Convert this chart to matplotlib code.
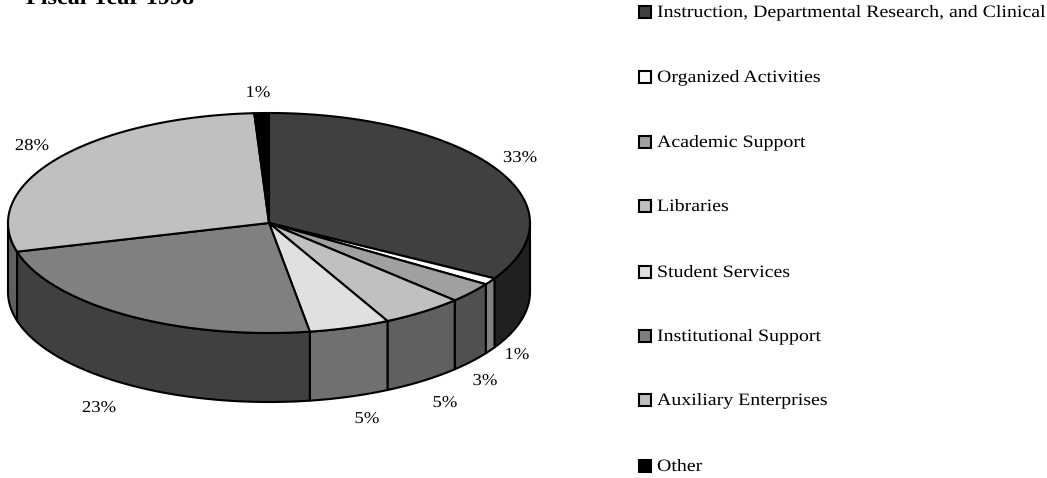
import numpy as np
import matplotlib
matplotlib.use('Agg')
import matplotlib.pyplot as plt
from matplotlib.patches import Polygon, Rectangle
from matplotlib.patheffects import AbstractPathEffect
from matplotlib.transforms import Affine2D

plt.rcParams['font.family'] = ['Liberation Serif', 'DejaVu Serif']

categories = ['Instruction, Departmental Research, and Clinical', 'Organized Activities',
              'Academic Support', 'Libraries', 'Student Services',
              'Institutional Support', 'Auxiliary Enterprises', 'Other']
values = [33.4, 1.0, 3.0, 5.1, 5.0, 23.3, 28.3, 0.9]
pct_labels = ['33%', '1%', '3%', '5%', '5%', '23%', '28%', '1%']
top_colors = ['#404040', '#ffffff', '#a0a0a0', '#c0c0c0', '#e0e0e0', '#808080', '#c0c0c0', '#000000']
side_colors = ['#202020', '#808080', '#505050', '#606060', '#707070', '#404040', '#606060', '#000000']

# pixel layout of the picture
cx, cy, rx, ry, depth = 269, 223, 261, 110, 69
label_pos = [(520, 158), (517, 355), (485, 381), (445, 403), (367, 419), (99, 408), (32, 146), (258, 93)]
legend_y = [12, 77, 142, 206, 272, 336, 400, 466]
lw = 1.5


class StretchX(AbstractPathEffect):
    # the original text is set wide, matplotlib has no tracking
    def __init__(self, x0, sx):
        super().__init__()
        self.tr = Affine2D().translate(-x0, 0).scale(sx, 1).translate(x0, 0)

    def draw_path(self, renderer, gc, tpath, affine, rgbFace=None):
        renderer.draw_path(gc, tpath, affine + self.tr, rgbFace)


def arc(t0, t1, dy=0):
    # clockwise from 12 o'clock, degrees
    t = np.radians(np.linspace(t0, t1, max(int(abs(t1 - t0)) * 2, 2)))
    return np.column_stack([cx + rx * np.sin(t), cy - ry * np.cos(t) + dy])


fig = plt.figure(figsize=(10.47, 4.78), dpi=100)
ax = fig.add_axes([0, 0, 1, 1])
ax.set_xlim(0, 1047)
ax.set_ylim(478, 0)
ax.axis('off')

edges = np.concatenate([[0], np.cumsum(values)]) * 360 / sum(values)

## side faces, only the front half of the rim shows
for i in range(len(values)):
    t0, t1 = max(edges[i], 90), min(edges[i + 1], 270)
    if t1 <= t0:
        continue
    pts = np.vstack([arc(t0, t1), arc(t1, t0, depth)])
    ax.add_patch(Polygon(pts, closed=True, facecolor=side_colors[i], edgecolor='k',
                         linewidth=lw, joinstyle='round'))

## top face
for i in range(len(values)):
    pts = np.vstack([[cx, cy], arc(edges[i], edges[i + 1])])
    ax.add_patch(Polygon(pts, closed=True, facecolor=top_colors[i], edgecolor='k',
                         linewidth=lw, joinstyle='round'))

for (x, y), s in zip(label_pos, pct_labels):
    ax.text(x, y, s, ha='center', va='center', fontsize=12, color='k',
            path_effects=[StretchX(x, 1.12)])

## legend
for y, name, c in zip(legend_y, categories, top_colors):
    ax.add_patch(Rectangle((639, y - 6), 12, 12, facecolor=c, edgecolor='k', linewidth=lw))
    ax.text(657, y + 5, name, ha='left', va='baseline', fontsize=12.5, color='k',
            path_effects=[StretchX(657, 1.145)])

ax.text(26, 4, 'Fiscal Year 1998', ha='left', va='baseline', fontsize=16,
        fontweight='bold', color='k', path_effects=[StretchX(26, 1.09)])

fig.savefig('out.png', dpi=100)
